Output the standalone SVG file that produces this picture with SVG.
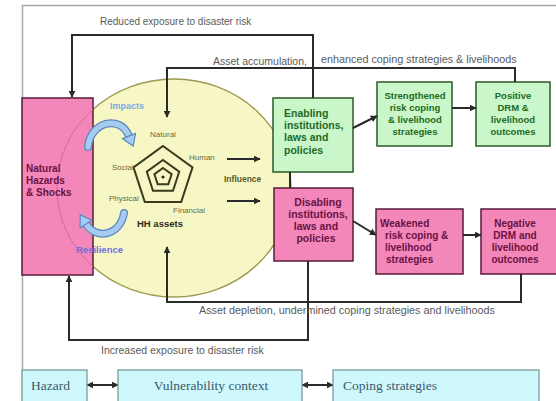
<svg xmlns="http://www.w3.org/2000/svg" width="556" height="401" viewBox="0 0 556 401">
<style>
.conn{fill:none;stroke:#2a2a2a;stroke-width:2}
.lbl{font-family:"Liberation Sans",Arial,sans-serif;fill:#5a5a5a}
.pink{fill:#f387b9;stroke:#5a1a3a;stroke-width:1.5}
.green{fill:#c9f7c9;stroke:#2a5a2a;stroke-width:1.5}
.cyan{fill:#cff8fc;stroke:#7a9c9c;stroke-width:1.3}
.ptxt{font-family:"Liberation Sans",Arial,sans-serif;font-weight:bold;fill:#6a1244}
.gtxt{font-family:"Liberation Sans",Arial,sans-serif;font-weight:bold;fill:#1f6a1f}
.ctxt{font-family:"Liberation Sans",Arial,sans-serif;fill:#6a6a3a;font-size:8px}
.btxt{font-family:"Liberation Serif","Times New Roman",serif;fill:#3a5a6a;font-size:13.5px}
.pent{fill:none;stroke:#3a3a1e;stroke-width:2}
</style>
<defs>
<marker id="ah" viewBox="0 0 10 10" refX="9" refY="5" markerWidth="7" markerHeight="7" markerUnits="userSpaceOnUse" orient="auto-start-reverse">
<path d="M0,0 L10,5 L0,10 z" fill="#2a2a2a"/>
</marker>
</defs>

<g id="frame">
<path d="M556,5.5 H22.5 V401" fill="none" stroke="#a8a8a8" stroke-width="1.5"/>
</g>

<g id="hh-assets">
<ellipse cx="174" cy="188" rx="117" ry="109" fill="#f7f7c6" stroke="#9a9a50" stroke-width="1.3"/>
</g>

<g id="natural-hazards">
<rect class="pink" x="22" y="98" width="71" height="177"/>
<path d="M93,109.3 A117,109 0 0 0 93,266.7" fill="none" stroke="#d46a9c" stroke-width="1"/>
<text class="ptxt" font-size="10" x="26" y="172">Natural</text>
<text class="ptxt" font-size="10" x="26" y="184">Hazards</text>
<text class="ptxt" font-size="10" x="26" y="196">&amp; Shocks</text>
</g>

<g id="enabling">
<rect class="green" x="273" y="98" width="80" height="74"/>
<text class="gtxt" font-size="10.5" x="284" y="117">Enabling</text>
<text class="gtxt" font-size="10.5" x="284" y="129">institutions,</text>
<text class="gtxt" font-size="10.5" x="284" y="141">laws and</text>
<text class="gtxt" font-size="10.5" x="284" y="154"> policies</text>
</g>

<g id="strengthened">
<rect class="green" x="377" y="82" width="75" height="64"/>
<g text-anchor="middle">
<text class="gtxt" font-size="9.5" x="415" y="99">Strengthened</text>
<text class="gtxt" font-size="9.5" x="415" y="111">risk coping</text>
<text class="gtxt" font-size="9.5" x="415" y="123">&amp; livelihood</text>
<text class="gtxt" font-size="9.5" x="415" y="135">strategies</text>
</g>
</g>

<g id="positive">
<rect class="green" x="476" y="82" width="74" height="64"/>
<g text-anchor="middle">
<text class="gtxt" font-size="9.5" x="513" y="99">Positive</text>
<text class="gtxt" font-size="9.5" x="513" y="111">DRM &amp;</text>
<text class="gtxt" font-size="9.5" x="513" y="123">livelihood</text>
<text class="gtxt" font-size="9.5" x="513" y="135">outcomes</text>
</g>
</g>

<g id="disabling">
<rect class="pink" x="274" y="188" width="79" height="73"/>
<g text-anchor="middle">
<text class="ptxt" font-size="10.5" x="318" y="206">Disabling</text>
<text class="ptxt" font-size="10.5" x="318" y="218">institutions,</text>
<text class="ptxt" font-size="10.5" x="316" y="230">laws and</text>
<text class="ptxt" font-size="10.5" x="316" y="242">policies</text>
</g>
</g>

<g id="weakened">
<rect class="pink" x="376" y="209" width="87" height="65"/>
<text class="ptxt" font-size="10" x="380" y="227">Weakened</text>
<text class="ptxt" font-size="10" x="385" y="239">risk coping &amp;</text>
<text class="ptxt" font-size="10" x="385" y="251">livelihood</text>
<text class="ptxt" font-size="10" x="386" y="263">strategies</text>
</g>

<g id="negative">
<rect class="pink" x="481" y="209" width="76" height="65"/>
<g text-anchor="middle">
<text class="ptxt" font-size="10" x="515" y="227">Negative</text>
<text class="ptxt" font-size="10" x="515" y="239">DRM and</text>
<text class="ptxt" font-size="10" x="515" y="251">livelihood</text>
<text class="ptxt" font-size="10" x="515" y="263">outcomes</text>
</g>
</g>

<g id="connectors">
<path class="conn" d="M313,98 V35 H72 V97" marker-end="url(#ah)"/>
<path class="conn" d="M515,82 V68 H167 V117" marker-end="url(#ah)"/>
<path class="conn" d="M521,274 V302 H167 V247" marker-end="url(#ah)"/>
<path class="conn" d="M308,261 V340 H69 V276" marker-end="url(#ah)"/>
<path class="conn" d="M290,172 V188"/>
<path class="conn" d="M353,128 L377,116" marker-end="url(#ah)"/>
<path class="conn" d="M452,108 H476" marker-end="url(#ah)"/>
<path class="conn" d="M353,221 L376,235" marker-end="url(#ah)"/>
<path class="conn" d="M463,235 H481" marker-end="url(#ah)"/>
<path class="conn" d="M227,159 H260" stroke-width="2.5" marker-end="url(#ah)"/>
<path class="conn" d="M227,201 H260" stroke-width="2.5" marker-end="url(#ah)"/>
<path class="conn" d="M87,385 H118" stroke-width="1.6" marker-start="url(#ah)" marker-end="url(#ah)"/>
<path class="conn" d="M302,385 H333" stroke-width="1.6" marker-start="url(#ah)" marker-end="url(#ah)"/>
</g>

<g id="loop-labels">
<text class="lbl" font-size="10" x="100" y="25">Reduced exposure to disaster risk</text>
<text class="lbl" font-size="10.5" x="213" y="65">Asset accumulation,</text>
<text class="lbl" font-size="10.8" x="321" y="63">enhanced coping strategies &amp; livelihoods</text>
<text class="lbl" font-size="10.8" x="199" y="314">Asset depletion, undermined coping strategies and livelihoods</text>
<text class="lbl" font-size="10.5" x="101" y="354">Increased exposure to disaster risk</text>
</g>

<g id="pentagon">
<polygon class="pent" points="163,146 192.5,167.4 181.2,202.1 144.8,202.1 133.5,167.4"/>
<polygon class="pent" points="163,160 179.2,171.7 173,190.8 153,190.8 146.8,171.7"/>
<polygon class="pent" stroke-width="1.5" points="163,168 171.6,174.2 168.3,184.3 157.7,184.3 154.4,174.2"/>
<circle cx="163" cy="177" r="1.6" fill="#2a2a1a"/>
<text class="ctxt" x="163" y="137" text-anchor="middle">Natural</text>
<text class="ctxt" x="189" y="160">Human</text>
<text class="ctxt" x="112" y="170">Social</text>
<text class="ctxt" x="109" y="201">Physical</text>
<text class="ctxt" x="173" y="213">Financial</text>
<text x="137" y="227" font-family="Liberation Sans, Arial, sans-serif" font-weight="bold" font-size="9.5" fill="#2a2a1a">HH assets</text>
<text x="224" y="182" font-family="Liberation Sans, Arial, sans-serif" font-weight="bold" font-size="8.5" fill="#5a5a2a">Influence</text>
</g>

<g id="impacts">
<path d="M88,147 C90,122 120,114 129,136" fill="none" stroke="#5b88c0" stroke-width="8" stroke-linecap="round"/>
<path d="M88,147 C90,122 120,114 129,136" fill="none" stroke="#a6caf0" stroke-width="5.5" stroke-linecap="round"/>
<polygon points="122.5,138.6 135.5,133.4 133.2,146.2" fill="#a6caf0" stroke="#5b88c0" stroke-width="1.2"/>
<text x="110" y="109" font-family="Liberation Sans, Arial, sans-serif" font-weight="bold" font-size="9" fill="#7fa6dc">Impacts</text>
</g>

<g id="resilience">
<path d="M124,213 C120,236 96,240 86,224" fill="none" stroke="#5b88c0" stroke-width="8" stroke-linecap="round"/>
<path d="M124,213 C120,236 96,240 86,224" fill="none" stroke="#a6caf0" stroke-width="5.5" stroke-linecap="round"/>
<polygon points="91.9,220.3 80.1,227.7 80.2,214.7" fill="#a6caf0" stroke="#5b88c0" stroke-width="1.2"/>
<text x="76" y="253" font-family="Liberation Sans, Arial, sans-serif" font-weight="bold" font-size="9.5" fill="#6f70dc">Resilience</text>
</g>

<g id="hazard">
<rect class="cyan" x="22" y="370" width="65" height="32"/>
<text class="btxt" x="31" y="390">Hazard</text>
</g>
<g id="vulnerability-context">
<rect class="cyan" x="118" y="370" width="184" height="32"/>
<text class="btxt" x="211" y="390" text-anchor="middle">Vulnerability context</text>
</g>
<g id="coping-strategies">
<rect class="cyan" x="333" y="370" width="206" height="32"/>
<text class="btxt" x="343" y="390">Coping strategies</text>
</g>
</svg>
